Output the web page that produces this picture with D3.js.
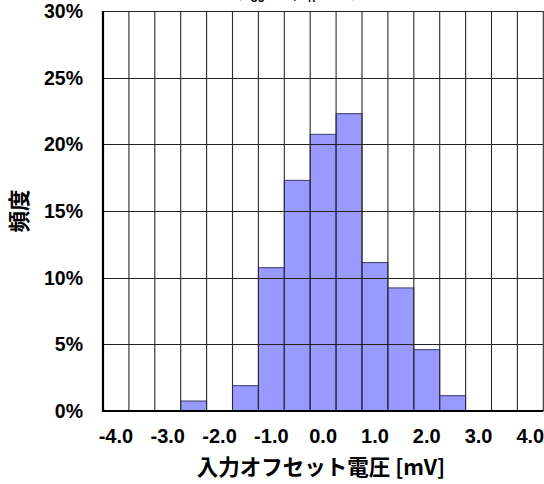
<!DOCTYPE html>
<html>
<head>
<meta charset="utf-8">
<script src="https://cdn.jsdelivr.net/npm/d3@7"></script>
<style>
  html, body { margin: 0; padding: 0; background: #fff; }
  svg { display: block; }
</style>
</head>
<body>
<svg id="chart" width="544" height="484"></svg>
<script>
const categories = ["-4.0","-3.5","-3.0","-2.5","-2.0","-1.5","-1.0","-0.5","0.0","0.5","1.0","1.5","2.0","2.5","3.0","3.5","4.0"];
const frequency = [0, 0, 0, 0.75, 0, 1.9, 10.75, 17.3, 20.75, 22.3, 11.13, 9.23, 4.6, 1.15, 0, 0, 0];
const xTickLabels = ["-4.0","-3.0","-2.0","-1.0","0.0","1.0","2.0","3.0","4.0"];
const yTicks = [0, 5, 10, 15, 20, 25, 30];
const xTitle = "入力オフセット電圧 [mV]";
const yTitle = "頻度";

const svg = d3.select("#chart");
const plotLeft = 103, plotRight = 103 + 17 * 25.9, plotTop = 11, plotBottom = 411;

const x = d3.scaleBand().domain(categories).range([plotLeft, plotRight]).padding(0);
const y = d3.scaleLinear().domain([0, 30]).range([plotBottom, plotTop]);

const latin = "'Liberation Sans', Arial, sans-serif";
const cjk = "'Noto Sans CJK JP', 'Liberation Sans', sans-serif";

// title lying above the picture, only its lowest strokes show (as in the reference)
const tt = svg.append("text")
  .attr("x", 297).attr("y", -2)
  .attr("text-anchor", "middle")
  .attr("font-family", cjk).attr("font-weight", "bold").attr("font-size", 13)
  .attr("fill", "#000");
tt.append("tspan").text("(V");
tt.append("tspan").attr("dy", 4).attr("font-size", 10).text("OS");
tt.append("tspan").attr("dy", -4).text(" 分布, T");
tt.append("tspan").attr("dy", 4).attr("font-size", 10).text("A");
tt.append("tspan").attr("dy", -4).text("=25°C)");

// bars
svg.append("g").selectAll("rect")
  .data(categories.map((c, i) => ({c, v: frequency[i]})).filter(d => d.v > 0))
  .join("rect")
  .attr("x", d => x(d.c))
  .attr("y", d => y(d.v))
  .attr("width", x.bandwidth())
  .attr("height", d => y(0) - y(d.v))
  .attr("fill", "#9999ff")
  .attr("stroke", "#3a3a6a")
  .attr("stroke-width", 1);

// horizontal gridlines
const yAxis = d3.axisLeft(y).tickValues(yTicks.filter(t => t > 0)).tickSize(-(plotRight - plotLeft)).tickFormat("");
svg.append("g").attr("transform", `translate(${plotLeft},0)`).call(yAxis)
  .call(g => g.select(".domain").remove())
  .call(g => g.selectAll("line").attr("stroke", "#222").attr("stroke-width", 1).attr("shape-rendering", "crispEdges"));

// vertical gridlines at category boundaries
const bounds = categories.map(c => x(c)).concat([plotRight]);
svg.append("g").selectAll("line").data(bounds.slice(1)).join("line")
  .attr("x1", d => d).attr("x2", d => d)
  .attr("y1", plotTop).attr("y2", plotBottom)
  .attr("stroke", "#2a2a2a").attr("stroke-width", 1.1);

// axes lines
svg.append("line").attr("x1", plotLeft).attr("x2", plotLeft).attr("y1", plotTop).attr("y2", plotBottom + 1)
  .attr("stroke", "#000").attr("stroke-width", 2.2);
svg.append("line").attr("x1", plotLeft - 1).attr("x2", plotRight).attr("y1", plotBottom).attr("y2", plotBottom)
  .attr("stroke", "#000").attr("stroke-width", 2.2);

// y tick labels
svg.append("g").selectAll("text").data(yTicks).join("text")
  .attr("x", 83).attr("y", d => y(d))
  .attr("dy", "0.36em")
  .attr("text-anchor", "end")
  .attr("font-family", latin).attr("font-weight", "bold").attr("font-size", 19.5)
  .text(d => d + "%");

// x tick labels
svg.append("g").selectAll("text").data(xTickLabels).join("text")
  .attr("x", d => x(d) + x.bandwidth() / 2)
  .attr("y", 443)
  .attr("text-anchor", "middle")
  .attr("font-family", latin).attr("font-weight", "bold").attr("font-size", 20)
  .text(d => d);

// axis titles
svg.append("text")
  .attr("x", 321).attr("y", 475)
  .attr("text-anchor", "middle")
  .attr("font-family", cjk).attr("font-weight", "bold").attr("font-size", 21.5)
  .text(xTitle);

svg.append("text")
  .attr("transform", "translate(27,211) rotate(-90)")
  .attr("text-anchor", "middle")
  .attr("font-family", cjk).attr("font-weight", "bold").attr("font-size", 21.5)
  .text(yTitle);
</script>
</body>
</html>
